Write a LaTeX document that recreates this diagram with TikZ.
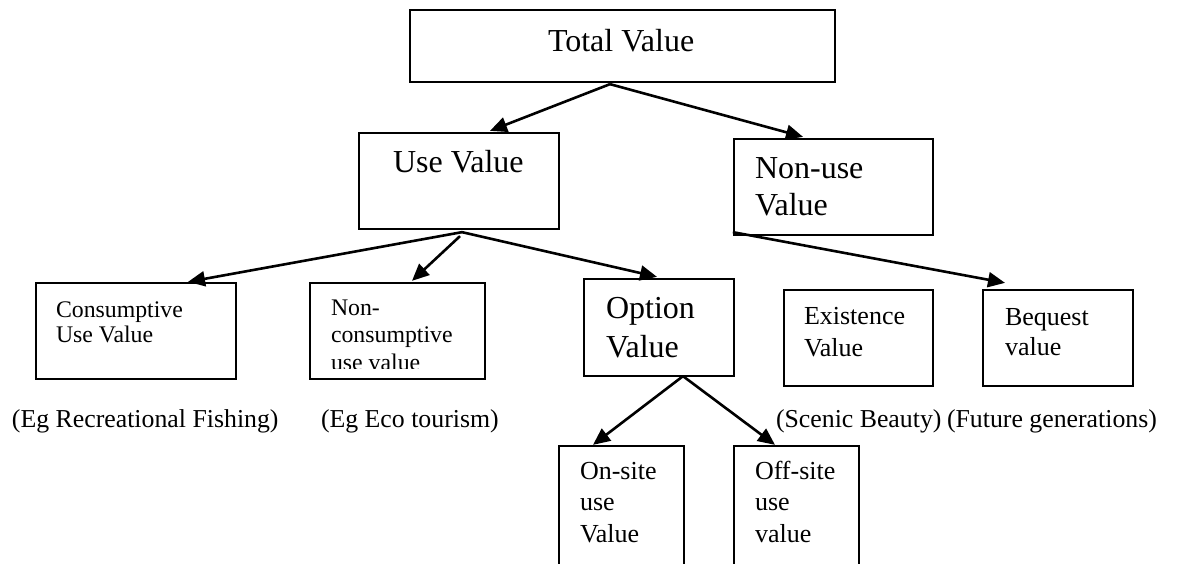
\documentclass[tikz,border=0pt]{standalone}
\usepackage{fontspec}
\setmainfont{Liberation Serif}
\usetikzlibrary{arrows.meta}

\tikzset{
  box/.style={draw=black, line width=2.3pt, rectangle, inner sep=0pt, fill=none},
  arr/.style={draw=black, line width=2.6pt, -{Triangle[length=17pt,width=15pt]}},
  txt/.style={anchor=base west, inner sep=0pt, outer sep=0pt},
  big/.style={font=\fontsize{32}{36}\selectfont},
  mid/.style={font=\fontsize{26}{30}\selectfont},
  sml/.style={font=\fontsize{23.8}{28}\selectfont},
  lbl/.style={font=\fontsize{25.8}{30}\selectfont},
}

\begin{document}
\begin{tikzpicture}[x=1pt, y=-1pt]
  \clip (0,0) rectangle (1180,564);
  \fill[white] (0,0) rectangle (1180,564);

  % ---- boxes ----
  \node[box, minimum width=425pt, minimum height=72pt] (total)   at (622.5,46)   {};
  \node[box, minimum width=200pt, minimum height=96pt] (use)     at (459,181)    {};
  \node[box, minimum width=199pt, minimum height=96pt] (nonuse)  at (833.5,187)  {};
  \node[box, minimum width=200pt, minimum height=96pt] (cons)    at (136,331)    {};
  \node[box, minimum width=175pt, minimum height=96pt] (noncons) at (397.5,331)  {};
  \node[box, minimum width=150pt, minimum height=97pt] (option)  at (659,327.5)  {};
  \node[box, minimum width=149pt, minimum height=96pt] (exist)   at (858.5,338)  {};
  \node[box, minimum width=150pt, minimum height=96pt] (bequest) at (1058,338)   {};
  \node[box, minimum width=125pt, minimum height=154pt] (onsite)  at (621.5,523) {};
  \node[box, minimum width=125pt, minimum height=154pt] (offsite) at (796.5,523) {};

  % ---- box texts ----
  \node[txt, big] (t-total) at (548,52) {Total Value};
  \node[txt, big] (t-use) at (393,173) {Use Value};
  \node[txt, big] (t-nonuse1) at (755,179) {Non-use};
  \node[txt, big] (t-nonuse2) at (755,215) {Value};
  \node[txt, sml] (t-cons1) at (56,317) {Consumptive};
  \node[txt, sml] (t-cons2) at (56,342) {Use Value};
  \node[txt, sml] (t-noncons1) at (331,315) {Non-};
  \node[txt, sml] (t-noncons2) at (331,342) {consumptive};
  \begin{scope}
    \clip (310,283) rectangle (485,368);
    \node[txt, sml] (t-noncons3) at (331,370) {use value};
  \end{scope}
  \node[txt, big] (t-option1) at (606,318) {Option};
  \node[txt, big] (t-option2) at (606,357) {Value};
  \node[txt, mid] (t-exist1) at (804,324) {Existence};
  \node[txt, mid] (t-exist2) at (804,356) {Value};
  \node[txt, mid] (t-beq1) at (1005,325) {Bequest};
  \node[txt, mid] (t-beq2) at (1005,355) {value};
  \node[txt, mid] (t-on1) at (580,479) {On-site};
  \node[txt, mid] (t-on2) at (580,510) {use};
  \node[txt, mid] (t-on3) at (580,542) {Value};
  \node[txt, mid] (t-off1) at (755,479) {Off-site};
  \node[txt, mid] (t-off2) at (755,510) {use};
  \node[txt, mid] (t-off3) at (755,542) {value};

  % ---- example labels ----
  \node[txt, lbl] (l-cons) at (12,427) {(Eg Recreational Fishing)};
  \node[txt, lbl] (l-noncons) at (321,427) {(Eg Eco tourism)};
  \node[txt, lbl] (l-exist) at (776,427) {(Scenic Beauty)};
  \node[txt, lbl] (l-beq) at (947,427) {(Future generations)};

  % ---- connectors ----
  \draw[arr] ([xshift=-12.5pt,yshift=-1pt]total.south) -- ([xshift=31pt,yshift=1pt]use.north);
  \draw[arr] ([xshift=-12.5pt,yshift=-1pt]total.south) -- ([xshift=-30.5pt,yshift=1pt]nonuse.north);
  \draw[arr] ([xshift=3pt,yshift=-2pt]use.south) -- ([xshift=52pt]cons.north);
  \draw[arr] ([xshift=1pt,yshift=-6pt]use.south) -- ([xshift=14.5pt,yshift=1pt]noncons.north);
  \draw[arr] ([xshift=3pt,yshift=-2pt]use.south) -- ([xshift=-2pt,yshift=1pt]option.north);
  \draw[arr] ([yshift=4pt]nonuse.south west) -- ([xshift=-53pt,yshift=6pt]bequest.north);
  \draw[arr] ([xshift=24pt,yshift=1pt]option.south) -- ([xshift=-28.5pt]onsite.north);
  \draw[arr] ([xshift=24pt,yshift=1pt]option.south) -- ([xshift=-21.5pt]offsite.north);
\end{tikzpicture}
\end{document}
